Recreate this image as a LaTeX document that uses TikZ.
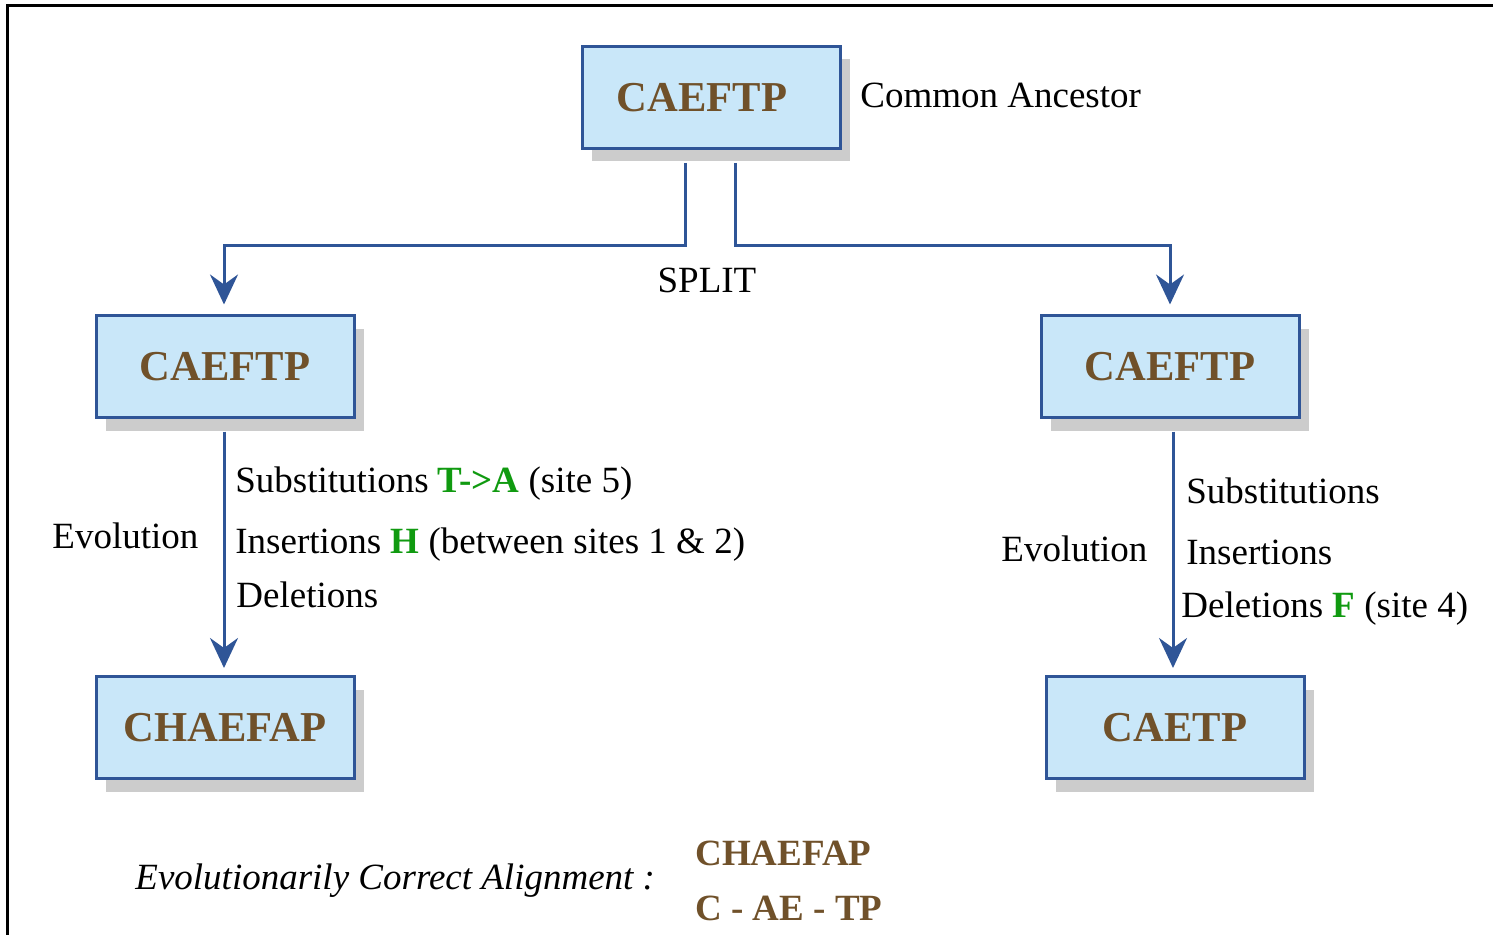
\documentclass[tikz,border=0pt]{standalone}
\usepackage{fontspec}
\setmainfont{Liberation Serif}
\usetikzlibrary{arrows.meta,shadows,calc}
\definecolor{lineblue}{HTML}{2F5597}
\definecolor{boxfill}{HTML}{C9E7F9}
\definecolor{brown}{HTML}{70512A}
\definecolor{grn}{HTML}{109A10}
\definecolor{shadowgray}{HTML}{CCCCCC}
\begin{document}
\begin{tikzpicture}[x=0.5pt,y=-0.5pt,
  seqbox/.style={draw=lineblue, fill=boxfill, line width=1.5pt, minimum width=129pt, minimum height=51pt, inner sep=0pt,
    font=\fontsize{21.3}{25}\selectfont\bfseries, text=brown,
    drop shadow={shadow xshift=5pt, shadow yshift=-6.5pt, fill=shadowgray, opacity=1}},
  conn/.style={draw=lineblue, line width=1.5pt, -{Stealth[length=15pt,width=14pt,inset=5pt]}},
  lbl/.style={inner sep=0pt, anchor=base west, font=\fontsize{18.5}{22}\selectfont},
  seqtxt/.style={inner sep=0pt, anchor=base west, font=\fontsize{18.5}{22}\selectfont\bfseries, text=brown}]
\useasboundingbox (0,0) rectangle (1493,935);
\draw[line width=1.5pt] (7,940) -- (7,6) -- (1500,6);

\node[seqbox] (top) at (711,97.5) {\hspace*{-9pt}CAEFTP};
\node[seqbox] (l1) at (225,367) {CAEFTP};
\node[seqbox] (r1) at (1170,367) {CAEFTP};
\node[seqbox] (l2) at (225,727.5) {CHAEFAP};
\node[seqbox] (r2) at (1175,727.5) {CAETP};

\draw[conn] ([shift={(-26,13)}]top.south) -- ++(0,83) -| ([shift={(-1,-10)}]l1.north);
\draw[conn] ([shift={(24,13)}]top.south) -- ++(0,83) -| ([shift={(0,-10)}]r1.north);
\draw[conn] ([shift={(-1,12)}]l1.south) -- ([shift={(-1,-7)}]l2.north);
\draw[conn] ([shift={(3,12)}]r1.south) -- ([shift={(-2,-7)}]r2.north);

\node[lbl] (ca) at (860,108) {Common Ancestor};
\node[lbl, anchor=base] (split) at (707,293) {SPLIT};

\node[lbl] (ls) at (235,492) {Substitutions \textcolor{grn}{\bfseries T->A} (site 5)};
\node[lbl] (li) at (235,553) {Insertions \textcolor{grn}{\bfseries H} (between sites 1 \& 2)};
\node[lbl] (ld) at (236,607) {Deletions};
\node[lbl] (le) at (52,548) {Evolution};

\node[lbl] (rs) at (1186,503) {Substitutions};
\node[lbl] (ri) at (1186,564) {Insertions};
\node[lbl] (rd) at (1181,617) {Deletions \textcolor{grn}{\bfseries F} (site 4)};
\node[lbl] (re) at (1001,561) {Evolution};

\node[lbl, font=\fontsize{18.5}{22}\selectfont\itshape] (eca) at (135,889) {Evolutionarily Correct Alignment :};
\node[seqtxt] (a1) at (695,865) {CHAEFAP};
\node[seqtxt] (a2) at (695,920) {C - AE - TP};
\end{tikzpicture}
\end{document}
